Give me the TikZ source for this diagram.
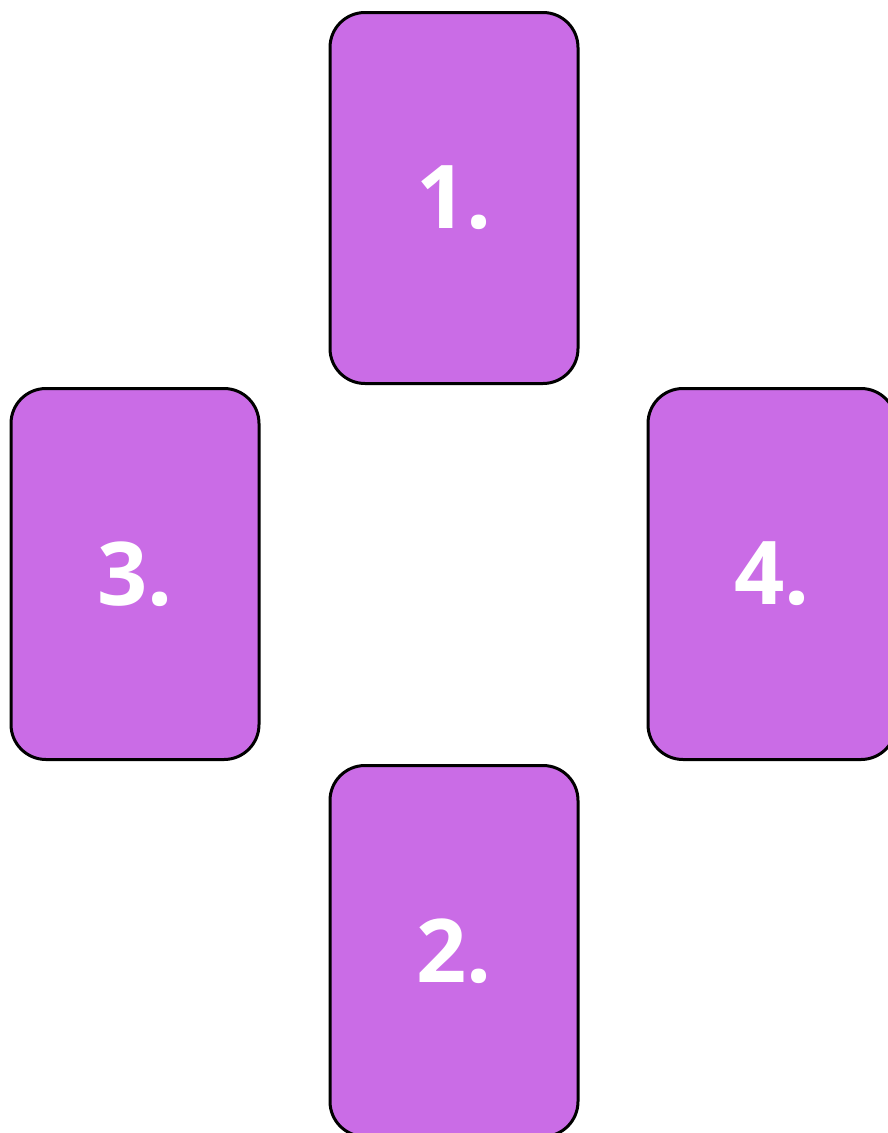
\documentclass[tikz,border=0pt]{standalone}
\usepackage{fontspec}
\setmainfont{Open Sans}
\usetikzlibrary{positioning}
\definecolor{cardpurple}{HTML}{CA6CE6}

\begin{document}
\begin{tikzpicture}[x=1pt,y=-1pt,node distance=753pt]
	\tikzstyle{card} = [rectangle, draw=black, line width=3pt, rounded corners=35pt, fill=cardpurple, minimum width=248pt, minimum height=371pt, text=white, font=\fontsize{88}{96}\selectfont\bfseries]

	\useasboundingbox (0,0) rectangle (888,1133);
	\clip (0,0) rectangle (888,1133);

	% Define nodes
	\node[card] (C1) at (454,198) {1.};
	\node[card] (C2) [below of=C1] {2.};
	\node[card] (C3) at (135,574) {3.};
	\node[card] (C4) [right of=C3, node distance=637pt] {4.};

\end{tikzpicture}
\end{document}
